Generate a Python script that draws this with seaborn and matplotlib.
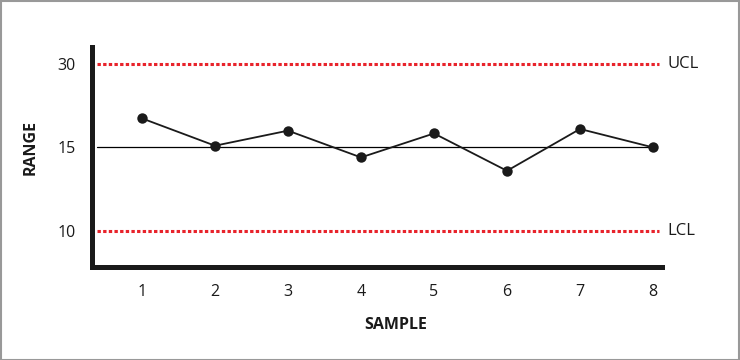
import numpy as np
import pandas as pd
import matplotlib
matplotlib.use("Agg")
import matplotlib.pyplot as plt
import seaborn as sns
from matplotlib.patches import Rectangle
import matplotlib.transforms as mtransforms

# data
samples = [1, 2, 3, 4, 5, 6, 7, 8]
ranges = [20.2, 15.3, 18.0, 14.4, 17.5, 13.6, 18.3, 15.0]
ytick_values = [10, 15, 30]
ucl_value = 30
lcl_value = 10
center_value = 15
xlabel = "SAMPLE"
ylabel = "RANGE"

sns.set_style("white")
plt.rcParams['font.family'] = ['Open Sans', 'DejaVu Sans']

df = pd.DataFrame({"sample": samples, "range": ranges})

fig = plt.figure(figsize=(7.4, 3.6), dpi=100)
ax = fig.add_axes([92/740, 1-267/360, (662-92)/740, (267-47)/360])

def fwd(v):
    v = np.asarray(v, dtype=float)
    return np.where(v <= 15, (v - 10) / 5.0, 1 + (v - 15) / 15.0)

def inv(p):
    p = np.asarray(p, dtype=float)
    return np.where(p <= 1, 10 + 5 * p, 15 + 15 * (p - 1))

ax.set_yscale('function', functions=(fwd, inv))

red = "#e8232b"
ax.axhline(ucl_value, color=red, lw=2.2, ls=(0, (1.1, 0.75)), xmin=0.008, xmax=0.995)
ax.axhline(lcl_value, color=red, lw=2.2, ls=(0, (1.1, 0.75)), xmin=0.008, xmax=0.995)
ax.axhline(center_value, color="black", lw=0.9, xmin=0.008, xmax=0.985)

sns.lineplot(data=df, x="sample", y="range", ax=ax, color="#1a1a1a", lw=1.3,
             marker="o", markersize=7.5, markeredgewidth=0, zorder=5)

ax.set_xlim(1 - 50/73, 8 + 9/73)
ax.set_ylim(7.85, 33.0)
ax.set_xticks(samples)
ax.set_yticks(ytick_values)
ax.set_yticklabels([str(v) for v in ytick_values])
ax.tick_params(axis='both', length=0, labelsize=11.5, colors="#1a1a1a")
ax.tick_params(axis='y', pad=12)
ax.tick_params(axis='x', pad=12)
ax.minorticks_off()

for s in ["top", "right"]:
    ax.spines[s].set_visible(False)
for s in ["left", "bottom"]:
    ax.spines[s].set_linewidth(3.6)
    ax.spines[s].set_color("#1a1a1a")
    ax.spines[s].set_capstyle("projecting")

ax.set_xlabel(xlabel, fontsize=11.5, fontweight="bold", color="#1a1a1a")
ax.set_ylabel(ylabel, fontsize=11.5, fontweight="bold", color="#1a1a1a")
ax.xaxis.set_label_coords((396 - 92) / 570, -(317 - 267) / 220)
ax.yaxis.set_label_coords(-(92 - 39) / 570, (267 - 147.5) / 220)

trans = mtransforms.blended_transform_factory(ax.transAxes, ax.transData)
ax.text(1.009, ucl_value, "UCL", transform=trans, va="center", ha="left", fontsize=12, color="#1a1a1a")
ax.text(1.009, lcl_value, "LCL", transform=trans, va="center", ha="left", fontsize=12, color="#1a1a1a")

fig.patches.append(Rectangle((0.5/740, 0.5/360), 1 - 1.5/740, 1 - 1.5/360,
                             transform=fig.transFigure, fill=False,
                             edgecolor="#999999", lw=1.5))

fig.savefig("out.png", dpi=100)
